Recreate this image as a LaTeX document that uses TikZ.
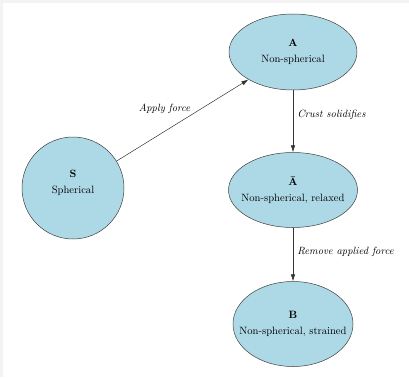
\documentclass[tikz,border=0pt]{standalone}
\usetikzlibrary{shapes.geometric,arrows.meta}
\definecolor{stateblue}{HTML}{ADD8E6}
\definecolor{framegray}{HTML}{F3F3F3}
\begin{document}
\begin{tikzpicture}[x=1pt,y=-1pt,
  state/.style={ellipse, draw=black!75, line width=0.5pt, fill=stateblue, inner sep=0pt},
  statetext/.style={align=center, inner sep=0pt, font=\fontsize{10.6}{16}\selectfont},
  trans/.style={draw=black!80, line width=0.5pt, -{Latex[length=7pt,width=4.5pt]}},
  elabel/.style={font=\fontsize{10.5}{12}\selectfont\itshape, inner sep=4pt}
]
\useasboundingbox (0,0) rectangle (409,377);
\fill[framegray] (0,0) rectangle (409,3);
\fill[framegray] (0,0) rectangle (3,377);
\node[state, circle, minimum size=102pt] (S) at (73,188) {};
\node[state, minimum width=128pt, minimum height=76pt] (A) at (293,52) {};
\node[state, minimum width=129pt, minimum height=75pt] (At) at (293,190) {};
\node[state, minimum width=120pt, minimum height=85pt] (B) at (293,324) {};
\node[statetext] (St) at (73,183) {\textbf{S}\\Spherical};
\node[statetext] (Att) at (A) {\textbf{A}\\Non-spherical};
\node[statetext] (Attt) at (At) {\textbf{Ā}\\Non-spherical, relaxed};
\node[statetext] (Bt) at (B) {\textbf{B}\\Non-spherical, strained};
\draw[trans] (S) -- node[elabel, pos=0.5, anchor=south east, inner sep=2pt, xshift=10pt, yshift=4pt] {Apply force} (A);
\draw[trans] (A) -- node[elabel, right, pos=0.4] {Crust solidifies} (At);
\draw[trans] (At) -- node[elabel, right, pos=0.45] {Remove applied force} (B);
\end{tikzpicture}
\end{document}
